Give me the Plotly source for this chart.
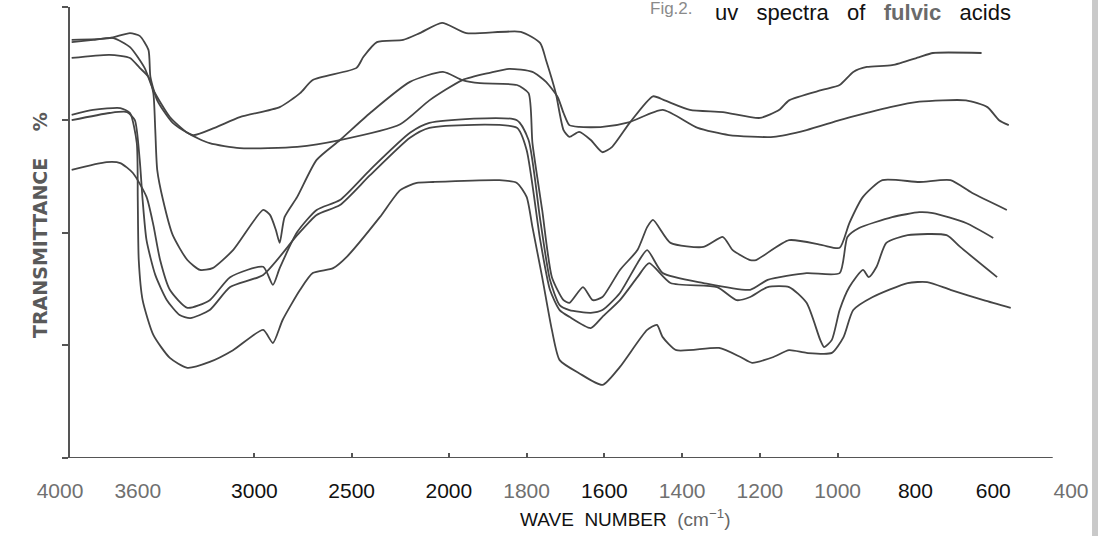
import plotly.graph_objects as go

# ---- data (wavenumber cm-1, transmittance %) ----
c1_wn = [3940, 3745, 3640, 3590, 3545, 3535, 3500, 3420, 3315, 3205, 3075, 2870, 2765, 2700, 2475, 2440, 2370, 2235, 2150, 2035,
         1955, 1815, 1765, 1750, 1725, 1705, 1690, 1665, 1635, 1605, 1580, 1535, 1475, 1445, 1380, 1295, 1200, 1150, 1125, 1040,
         995, 960, 925, 860, 790, 755, 630]
c1_t = [92.7, 93.1, 94.2, 93.6, 90.5, 84.5, 79.3, 74.3, 71.6, 73.2, 75.6, 77.8, 80.9, 83.8, 86.5, 88.9, 92.2, 92.7, 94.2, 96.5,
        94.2, 94.5, 92.0, 88.2, 80.9, 72.7, 71.2, 72.3, 70.5, 67.8, 69.0, 74.3, 80.2, 79.3, 77.2, 76.7, 75.4, 77.2, 79.3, 81.6,
        82.7, 85.6, 86.7, 87.1, 88.9, 89.8, 89.8]

c2_wn = [3940, 3830, 3725, 3640, 3565, 3520, 3435, 3345, 3230, 3075, 2780, 2560, 2250, 2100, 1965, 1895, 1845, 1785, 1750, 1720,
         1705, 1690, 1665, 1605, 1535, 1450, 1360, 1280, 1165, 1080, 995, 925, 865, 790, 670, 615, 585, 560]
c2_t = [92.2, 92.7, 93.1, 91.1, 86.5, 81.6, 75.6, 72.1, 69.8, 68.7, 69.0, 70.5, 74.0, 79.3, 83.8, 85.4, 86.3, 85.6, 83.4, 80.0,
        76.5, 73.8, 73.4, 73.4, 74.5, 77.2, 73.2, 71.6, 71.2, 72.7, 74.9, 76.5, 77.8, 79.0, 79.3, 77.8, 74.9, 73.8]

c3_wn = [3940, 3745, 3640, 3590, 3545, 3520, 3510, 3500, 3470, 3420, 3345, 3280, 3215, 3110, 2955, 2920, 2890, 2870, 2845, 2780,
         2680, 2560, 2405, 2200, 2030, 1965, 1920, 1825, 1795, 1785, 1760, 1735, 1705, 1690, 1655, 1630, 1605, 1560, 1515, 1490,
         1475, 1430, 1345, 1295, 1270, 1225, 1210, 1125, 1040, 995, 970, 935, 885, 790, 710, 655, 565]
c3_t = [88.7, 89.4, 88.7, 86.5, 84.5, 80.9, 72.7, 63.9, 57.2, 49.4, 43.9, 41.7, 42.1, 46.1, 55.0, 53.9, 50.6, 47.7, 53.4, 57.9,
        66.1, 70.5, 76.5, 83.4, 85.6, 83.8, 83.1, 82.7, 80.9, 69.8, 55.0, 40.1, 35.0, 34.4, 37.9, 35.0, 35.7, 41.7, 46.1, 51.2,
        52.8, 47.7, 46.8, 49.0, 46.1, 43.9, 43.9, 48.3, 47.2, 46.6, 52.1, 57.9, 61.6, 61.2, 61.6, 58.8, 55.0]

c4_wn = [3940, 3760, 3690, 3625, 3555, 3520, 3485, 3435, 3345, 3230, 3125, 2955, 2905, 2870, 2780, 2680, 2560, 2405, 2200, 2100,
         1825, 1795, 1765, 1740, 1715, 1690, 1635, 1605, 1560, 1515, 1490, 1450, 1345, 1225, 1180, 1080, 995, 975, 945, 860,
         790, 755, 670, 600]
c4_t = [63.9, 65.6, 65.4, 63.2, 57.9, 51.7, 43.9, 37.3, 33.3, 35.0, 40.1, 42.4, 38.4, 42.1, 50.1, 55.0, 57.2, 63.9, 72.1, 74.3,
        74.9, 70.5, 52.8, 39.5, 33.9, 32.8, 32.2, 32.8, 36.6, 43.2, 46.1, 41.0, 38.8, 37.3, 39.5, 41.0, 41.0, 49.0, 51.0, 53.4,
        54.5, 54.3, 52.1, 48.8]

c5_wn = [3940, 3745, 3655, 3615, 3590, 3575, 3555, 3510, 3450, 3385, 3330, 3230, 3125, 2955, 2780, 2680, 2560, 2405, 2200, 2100,
         1825, 1800, 1765, 1740, 1715, 1690, 1635, 1605, 1560, 1515, 1485, 1430, 1310, 1260, 1225, 1180, 1125, 1080, 1045, 1035,
         1015, 995, 970, 935, 920, 900, 875, 820, 720, 685, 590]
c5_t = [74.9, 76.5, 76.7, 74.9, 66.1, 57.2, 48.3, 40.6, 35.0, 31.7, 31.0, 32.8, 37.9, 40.6, 49.4, 53.9, 56.1, 62.7, 71.0, 73.2,
        73.2, 68.3, 48.3, 37.3, 32.8, 31.3, 28.8, 31.3, 35.0, 40.1, 43.2, 38.8, 37.9, 35.0, 35.7, 37.9, 37.9, 34.4, 26.2, 24.6,
        26.2, 32.8, 37.9, 41.7, 40.1, 42.4, 47.7, 49.4, 49.4, 46.8, 40.1]

c6_wn = [3940, 3830, 3690, 3640, 3605, 3600, 3595, 3575, 3520, 3435, 3345, 3230, 3110, 2955, 2905, 2855, 2765, 2700, 2595, 2525,
         2355, 2250, 2165, 2080, 1870, 1825, 1800, 1785, 1760, 1735, 1715, 1665, 1605, 1560, 1490, 1465, 1450, 1415, 1305, 1250,
         1220, 1165, 1125, 1080, 1015, 985, 960, 910, 820, 770, 710, 625, 555]
c6_t = [76.1, 77.2, 77.6, 76.5, 69.8, 57.2, 43.9, 35.0, 27.3, 22.2, 20.0, 21.3, 23.9, 28.4, 25.5, 30.6, 37.3, 41.0, 42.1, 44.6,
        53.4, 59.4, 61.0, 61.2, 61.6, 61.0, 57.9, 51.2, 40.1, 28.4, 21.7, 18.8, 16.2, 20.2, 28.4, 29.5, 26.8, 23.9, 24.4, 22.4,
        21.1, 22.4, 23.9, 23.3, 23.3, 26.8, 32.8, 35.7, 38.8, 39.0, 37.3, 35.0, 33.3]

tick_wn = [4000, 3600, 3000, 2500, 2000, 1800, 1600, 1400, 1200, 1000, 800, 600, 400]
grey_ticks = [4000, 3600, 1800, 1400, 1200, 1000, 400]
mark_wn = [3000, 2500, 2000, 1800, 1600, 1400, 1200, 1000]
y_ticks = [0, 25, 50, 75, 100]
axis_start_wn = 3955
axis_end_wn = 447


# IR-chart scale: 4000-2000 cm-1 drawn at half the scale of 2000-400 cm-1
def to_pos(w):
    return w if w <= 2000 else 2000 + (w - 2000) / 2


LINE = '#454545'
AX = '#555555'

fig = go.Figure()
for wn, t in [(c1_wn, c1_t), (c2_wn, c2_t), (c3_wn, c3_t), (c4_wn, c4_t), (c5_wn, c5_t), (c6_wn, c6_t)]:
    fig.add_trace(go.Scatter(
        x=[to_pos(w) for w in wn], y=t, mode='lines',
        line=dict(color=LINE, width=1.8, shape='spline', smoothing=0.6),
        showlegend=False, hoverinfo='skip'))

ticktext = []
for w in tick_wn:
    if w in grey_ticks:
        ticktext.append('<span style="color:#707070">%d</span>' % w)
    else:
        ticktext.append(str(w))

fig.update_layout(
    width=1098, height=536,
    margin=dict(l=60, r=27, t=7, b=78, autoexpand=False),
    paper_bgcolor='white', plot_bgcolor='white',
    font=dict(family='Liberation Sans, Arial, sans-serif', color='#111111'),
    xaxis=dict(
        range=[to_pos(4000), 400], automargin=False,
        showgrid=False, zeroline=False, showline=False,
        tickmode='array', tickvals=[to_pos(w) for w in tick_wn], ticktext=ticktext,
        ticks='', tickfont=dict(size=21, color='#111111'),
        ticklabelstandoff=18,
        minor=dict(tickmode='array', tickvals=[to_pos(w) for w in mark_wn],
                   ticks='inside', ticklen=5, tickwidth=1.5, tickcolor=AX, showgrid=False),
    ),
    yaxis=dict(
        range=[0, 100], anchor='free', position=0.0089, automargin=False,
        showgrid=False, zeroline=False, showline=True, linecolor=AX, linewidth=2,
        tickmode='array', tickvals=y_ticks, ticks='outside', ticklen=6, tickwidth=1.5,
        tickcolor=AX, showticklabels=False,
    ),
    shapes=[
        dict(type='line', xref='x', yref='y', x0=to_pos(axis_start_wn), x1=to_pos(axis_end_wn),
             y0=0, y1=0, line=dict(color=AX, width=2)),
        dict(type='rect', xref='paper', yref='paper', x0=1.0208, x1=1.03, y0=-0.2, y1=1.05,
             fillcolor='#c9c9c9', line=dict(width=0), layer='below'),
    ],
    annotations=[
        dict(text='uv   spectra   of   <span style="color:#6a6a6a"><b>fulvic</b></span>   acids',
             xref='paper', yref='paper', x=0.9426, y=0.9889, xanchor='right', yanchor='middle',
             showarrow=False, font=dict(size=22, color='#111111')),
        dict(text='Fig.2.', xref='paper', yref='paper', x=0.605, y=0.9956, xanchor='center', yanchor='middle',
             showarrow=False, font=dict(size=17, color='#8a8a8a')),
        dict(text='<b>TRANSMITTANCE    %</b>', xref='paper', yref='paper', x=-0.0198, y=0.5166,
             xanchor='center', yanchor='middle', textangle=-90, showarrow=False,
             font=dict(size=19, color='#5a5a5a', family='DejaVu Sans, sans-serif')),
        dict(text='WAVE  NUMBER  <span style="color:#666666">(cm<sup>−1</sup>)</span>', xref='paper', yref='paper',
             x=0.559, y=-0.133, xanchor='center', yanchor='middle', showarrow=False,
             font=dict(size=19, color='#111111')),
    ],
)

# remove the default 8 px page margin so the figure fills the window exactly
fig.write_html('out.html', config={'displayModeBar': False},
               post_script="document.body.style.margin='0';")
